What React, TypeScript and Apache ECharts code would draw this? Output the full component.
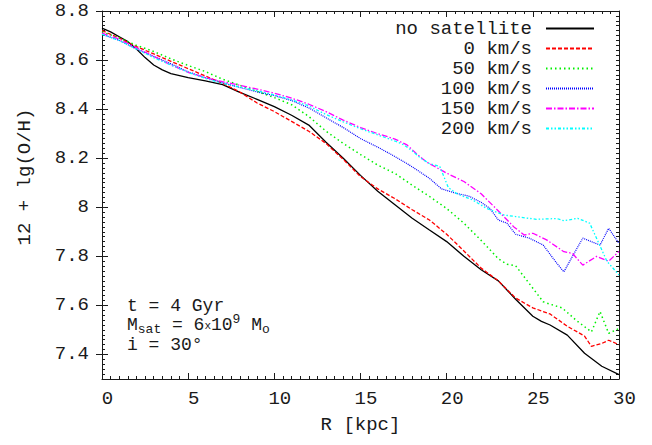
import React, { useEffect, useRef } from "react";
import * as echarts from "echarts";

// ---------- data ----------
const xTicks = [0, 5, 10, 15, 20, 25, 30];
const yTicks = [7.4, 7.6, 7.8, 8.0, 8.2, 8.4, 8.6, 8.8];
const seriesNames = ["no satellite", "0 km/s", "50 km/s", "100 km/s", "150 km/s", "200 km/s"];

const rNoSat = [0, 0.5, 1, 1.5, 2, 2.5, 3, 3.5, 4, 5, 6, 7, 8, 9, 10, 11, 12, 13, 14, 15, 16, 17, 18, 19, 20, 21, 22, 23, 24, 25, 25.5, 26, 27, 28, 29, 30];
const vNoSat = [8.73, 8.715, 8.695, 8.675, 8.645, 8.61, 8.58, 8.56, 8.545, 8.528, 8.515, 8.5, 8.468, 8.44, 8.41, 8.375, 8.335, 8.265, 8.2, 8.13, 8.065, 8.01, 7.955, 7.907, 7.86, 7.8, 7.745, 7.7, 7.625, 7.556, 7.535, 7.52, 7.479, 7.405, 7.352, 7.318];

const r0 = [0, 1, 2, 3, 4, 5, 6, 7, 8, 9, 10, 11, 12, 13, 14, 15, 16, 17, 18, 19, 20, 21, 22, 23, 24, 24.5, 25, 26, 27, 28, 28.4, 29, 29.4, 30];
const v0 = [8.72, 8.69, 8.655, 8.625, 8.595, 8.565, 8.535, 8.505, 8.47, 8.425, 8.39, 8.35, 8.31, 8.26, 8.195, 8.125, 8.075, 8.035, 7.99, 7.948, 7.89, 7.822, 7.752, 7.7, 7.63, 7.61, 7.59, 7.565, 7.515, 7.475, 7.433, 7.445, 7.458, 7.44];

const r50 = [0, 1, 2, 3, 4, 5, 6, 7, 8, 9, 10, 11, 12, 13, 14, 15, 16, 17, 18, 19, 20, 21, 22, 23, 23.5, 24, 25, 25.6, 26, 26.7, 27.5, 28.4, 28.9, 29.4, 30];
const v50 = [8.715, 8.69, 8.66, 8.635, 8.605, 8.578, 8.553, 8.522, 8.497, 8.472, 8.447, 8.418, 8.37, 8.31, 8.26, 8.215, 8.172, 8.138, 8.09, 8.044, 7.995, 7.935, 7.865, 7.79, 7.768, 7.762, 7.67, 7.615, 7.605, 7.59, 7.54, 7.492, 7.575, 7.486, 7.506];

const r100 = [0, 1, 2, 3, 4, 5, 6, 7, 8, 9, 10, 11, 12, 13, 14, 15, 16, 17, 18, 19, 19.7, 20.5, 21.3, 22, 22.5, 23, 23.5, 24, 24.8, 25.6, 26.4, 26.8, 27.3, 27.9, 28.4, 28.9, 29.4, 30];
const v100 = [8.705, 8.68, 8.645, 8.615, 8.585, 8.552, 8.528, 8.508, 8.488, 8.47, 8.455, 8.435, 8.405, 8.365, 8.325, 8.28, 8.245, 8.207, 8.165, 8.118, 8.075, 8.058, 8.045, 8.02, 7.996, 7.948, 7.935, 7.89, 7.874, 7.846, 7.771, 7.737, 7.8, 7.874, 7.86, 7.846, 7.914, 7.853];

const r150 = [0, 1, 2, 3, 4, 5, 6, 7, 8, 9, 10, 11, 12, 13, 14, 15, 16, 17, 17.7, 18.3, 18.8, 20, 21, 22, 23, 23.9, 24.5, 25, 25.8, 26.8, 27.3, 27.9, 28.7, 29.4, 30];
const v150 = [8.71, 8.685, 8.65, 8.615, 8.58, 8.55, 8.528, 8.512, 8.497, 8.482, 8.465, 8.445, 8.42, 8.39, 8.355, 8.325, 8.3, 8.278, 8.254, 8.215, 8.186, 8.139, 8.105, 8.055, 7.985, 7.92, 7.887, 7.894, 7.867, 7.819, 7.812, 7.764, 7.8, 7.78, 7.82];

const r200 = [0, 1, 2, 3, 4, 5, 6, 7, 8, 9, 10, 11, 12, 13, 14, 15, 16, 17, 17.5, 18, 18.5, 19, 19.6, 20.1, 20.6, 21.5, 22.3, 23.3, 24, 25.2, 26.4, 26.8, 27.6, 28.3, 29.3, 30];
const v200 = [8.705, 8.68, 8.645, 8.61, 8.58, 8.55, 8.525, 8.505, 8.49, 8.475, 8.458, 8.438, 8.413, 8.378, 8.348, 8.32, 8.295, 8.27, 8.255, 8.23, 8.2, 8.178, 8.166, 8.08, 8.055, 8.03, 7.996, 7.969, 7.962, 7.951, 7.954, 7.945, 7.955, 7.935, 7.78, 7.724];

// ---------- styling ----------
const FONT = '"Liberation Mono", "DejaVu Sans Mono", monospace';
const INK = "#1a1a1a";
const FS = 19;

const pairs = (r: number[], v: number[]) => r.map((x, i) => [x, v[i]]);

const lineSeries = (name: string, r: number[], v: number[], color: string, type: any, width: number) => ({
  name,
  type: "line",
  xAxisIndex: 0,
  yAxisIndex: 0,
  data: pairs(r, v),
  symbol: "none",
  showSymbol: false,
  silent: true,
  lineStyle: { color, width, type },
  itemStyle: { color },
});

const frameLine = { show: true, onZero: false, lineStyle: { color: INK, width: 1 } };

export default function App() {
  const ref = useRef<HTMLDivElement>(null);

  useEffect(() => {
    if (!ref.current) return;
    const chart = echarts.init(ref.current, null, { renderer: "svg" });

    const xBase = {
      type: "value",
      min: xTicks[0],
      max: xTicks[xTicks.length - 1],
      interval: 5,
      axisLine: frameLine,
      axisTick: { inside: true, length: 6, lineStyle: { color: INK } },
      minorTick: { show: true, splitNumber: 10, length: 3, lineStyle: { color: INK } },
      splitLine: { show: false },
      minorSplitLine: { show: false },
    };

    const yMinorBase = {
      type: "value",
      min: 7.3,
      max: 8.8,
      interval: 0.1,
      axisLine: frameLine,
      axisTick: { inside: true, length: 3, lineStyle: { color: INK } },
      minorTick: { show: true, splitNumber: 5, length: 3, lineStyle: { color: INK } },
      axisLabel: { show: false },
      splitLine: { show: false },
    };

    const yMajorBase = {
      type: "value",
      min: 7.3,
      max: 8.8,
      axisLine: { show: false },
      axisTick: { show: true, inside: true, length: 6, customValues: yTicks, lineStyle: { color: INK } },
      splitLine: { show: false },
    };

    const annoStyle = {
      fontFamily: FONT,
      fontSize: 18,
      fill: INK,
      verticalAlign: "middle",
      textVerticalAlign: "middle",
    };

    chart.setOption({
      animation: false,
      backgroundColor: "#ffffff",
      textStyle: { fontFamily: FONT },
      grid: { left: 102, right: 33, top: 11, bottom: 66, containLabel: false },
      legend: {
        orient: "vertical",
        right: 57,
        top: 19,
        padding: 0,
        itemGap: 1,
        itemWidth: 48,
        itemHeight: 14,
        align: "right",
        selectedMode: false,
        data: seriesNames,
        itemStyle: { opacity: 0, color: "rgba(0,0,0,0)", borderWidth: 0 },
        textStyle: { fontFamily: FONT, fontSize: FS, color: INK, padding: [0, 9, 0, 0] },
      },
      xAxis: [
        {
          ...xBase,
          position: "bottom",
          axisLabel: {
            margin: 10,
            fontFamily: FONT,
            fontSize: FS,
            color: INK,
            padding: [0, 0, 0, 11],
            customValues: xTicks,
          },
          name: "R [kpc]",
          nameLocation: "middle",
          nameGap: 36,
          nameTextStyle: { fontFamily: FONT, fontSize: FS, color: INK },
        },
        { ...xBase, position: "top", axisLabel: { show: false } },
      ],
      yAxis: [
        { ...yMinorBase, position: "left" },
        { ...yMinorBase, position: "right" },
        {
          ...yMajorBase,
          position: "left",
          axisLabel: {
            show: true,
            customValues: yTicks,
            margin: 13,
            fontFamily: FONT,
            fontSize: FS,
            color: INK,
            formatter: (v: number) => String(Math.round(v * 10) / 10),
          },
        },
        { ...yMajorBase, position: "right", axisLabel: { show: false } },
      ],
      graphic: [
        {
          type: "text",
          x: 25,
          y: 177,
          rotation: Math.PI / 2,
          silent: true,
          style: {
            text: "12 + lg(O/H)",
            fontFamily: FONT,
            fontSize: FS,
            fill: INK,
            align: "center",
            verticalAlign: "middle",
            textAlign: "center",
            textVerticalAlign: "middle",
          },
        },
        {
          type: "text",
          x: 127,
          y: 306,
          silent: true,
          style: { ...annoStyle, text: "t = 4 Gyr" },
        },
        {
          type: "text",
          x: 127,
          y: 325,
          silent: true,
          style: {
            ...annoStyle,
            text: "M{sub|sat} = 6{x|x}10{sup|9} M{sub|o}",
            rich: {
              sub: { fontFamily: FONT, fontSize: 13, fill: INK, padding: [8, 0, 0, 0] },
              sup: { fontFamily: FONT, fontSize: 13, fill: INK, padding: [0, 0, 12, 0] },
              x: { fontFamily: FONT, fontSize: 11, fill: INK, padding: [2, 0, 0, 0] },
            },
          },
        },
        {
          type: "text",
          x: 127,
          y: 345,
          silent: true,
          style: { ...annoStyle, text: "i = 30°" },
        },
      ],
      series: [
        lineSeries(seriesNames[0], rNoSat, vNoSat, "#000000", "solid", 1.3),
        lineSeries(seriesNames[1], r0, v0, "#ff0000", [4, 2], 1.3),
        lineSeries(seriesNames[2], r50, v50, "#00f000", [1.5, 3], 1.5),
        lineSeries(seriesNames[3], r100, v100, "#0000ff", [1, 1], 1.2),
        lineSeries(seriesNames[4], r150, v150, "#ff00ff", [6, 2, 1.5, 2], 1.3),
        lineSeries(seriesNames[5], r200, v200, "#00ffff", [3, 2, 1.5, 2, 1.5, 2], 1.3),
      ],
    });

    return () => chart.dispose();
  }, []);

  return (
    <div
      ref={ref}
      style={{ position: "absolute", left: 0, top: 0, width: 652, height: 445 }}
    />
  );
}
